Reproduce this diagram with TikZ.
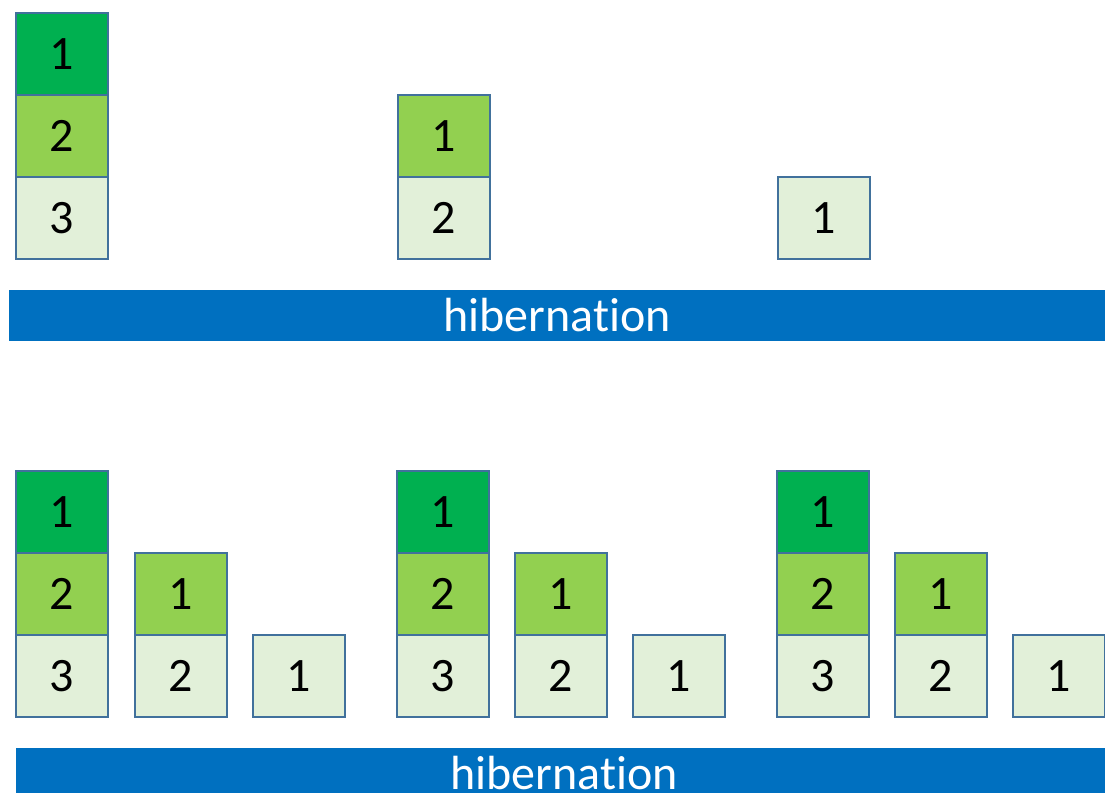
\documentclass[tikz,border=0pt]{standalone}
\usepackage{fontspec}
\setmainfont{Carlito}[Ligatures=NoCommon]
\usetikzlibrary{positioning}

\definecolor{lvldark}{HTML}{00B050}
\definecolor{lvlmid}{HTML}{92D050}
\definecolor{lvlpale}{HTML}{E2F0D9}
\definecolor{boxline}{HTML}{41719C}
\definecolor{barblue}{HTML}{0070C0}

\begin{document}
\begin{tikzpicture}[x=0.02cm, y=-0.02cm,
    box/.style={rectangle, draw=boxline, line width=1.2pt, minimum width=1.84cm, minimum height=1.64cm,
        inner sep=0pt, outer sep=0pt, font=\fontsize{27.3}{32}\selectfont},
    dark/.style={box, fill=lvldark},
    mid/.style={box, fill=lvlmid},
    pale/.style={box, fill=lvlpale},
    hibbar/.style={rectangle, fill=barblue, text=white, minimum height=1.02cm, inner sep=0pt,
        font=\fontsize{27.3}{32}\selectfont}]
    \useasboundingbox (0,0) rectangle (1105,793);
    \clip (0,0) rectangle (1105,793);
        %% Top: single stacks
        \node[pale] (t13) at (62,218) {3};
        \node[mid, above=0pt of t13] (t12) {2};
        \node[dark, above=0pt of t12] (t11) {1};

        \node[pale] (t22) at (444,218) {2};
        \node[mid, above=0pt of t22] (t21) {1};

        \node[pale] (t31) at (824,218) {1};

        \node[hibbar, minimum width=21.92cm] (hib1) at (557,315.5) {hibernation};

        %% Bottom: group 1
        \node[pale] (a13) at (62,676) {3};
        \node[mid, above=0pt of a13] (a12) {2};
        \node[dark, above=0pt of a12] (a11) {1};
        \node[pale, right=0.54cm of a13] (a22) {2};
        \node[mid, above=0pt of a22] (a21) {1};
        \node[pale, right=0.52cm of a22] (a31) {1};

        %% Bottom: group 2
        \node[pale, right=1.04cm of a31] (b13) {3};
        \node[mid, above=0pt of b13] (b12) {2};
        \node[dark, above=0pt of b12] (b11) {1};
        \node[pale, right=0.52cm of b13] (b22) {2};
        \node[mid, above=0pt of b22] (b21) {1};
        \node[pale, right=0.52cm of b22] (b31) {1};

        %% Bottom: group 3
        \node[pale, right=1.04cm of b31] (c13) {3};
        \node[mid, above=0pt of c13] (c12) {2};
        \node[dark, above=0pt of c12] (c11) {1};
        \node[pale, right=0.52cm of c13] (c22) {2};
        \node[mid, above=0pt of c22] (c21) {1};
        \node[pale, right=0.52cm of c22] (c31) {1};

        \node[hibbar, minimum width=21.92cm] (hib2) at (564,773) {hibernation};
\end{tikzpicture}
\end{document}
